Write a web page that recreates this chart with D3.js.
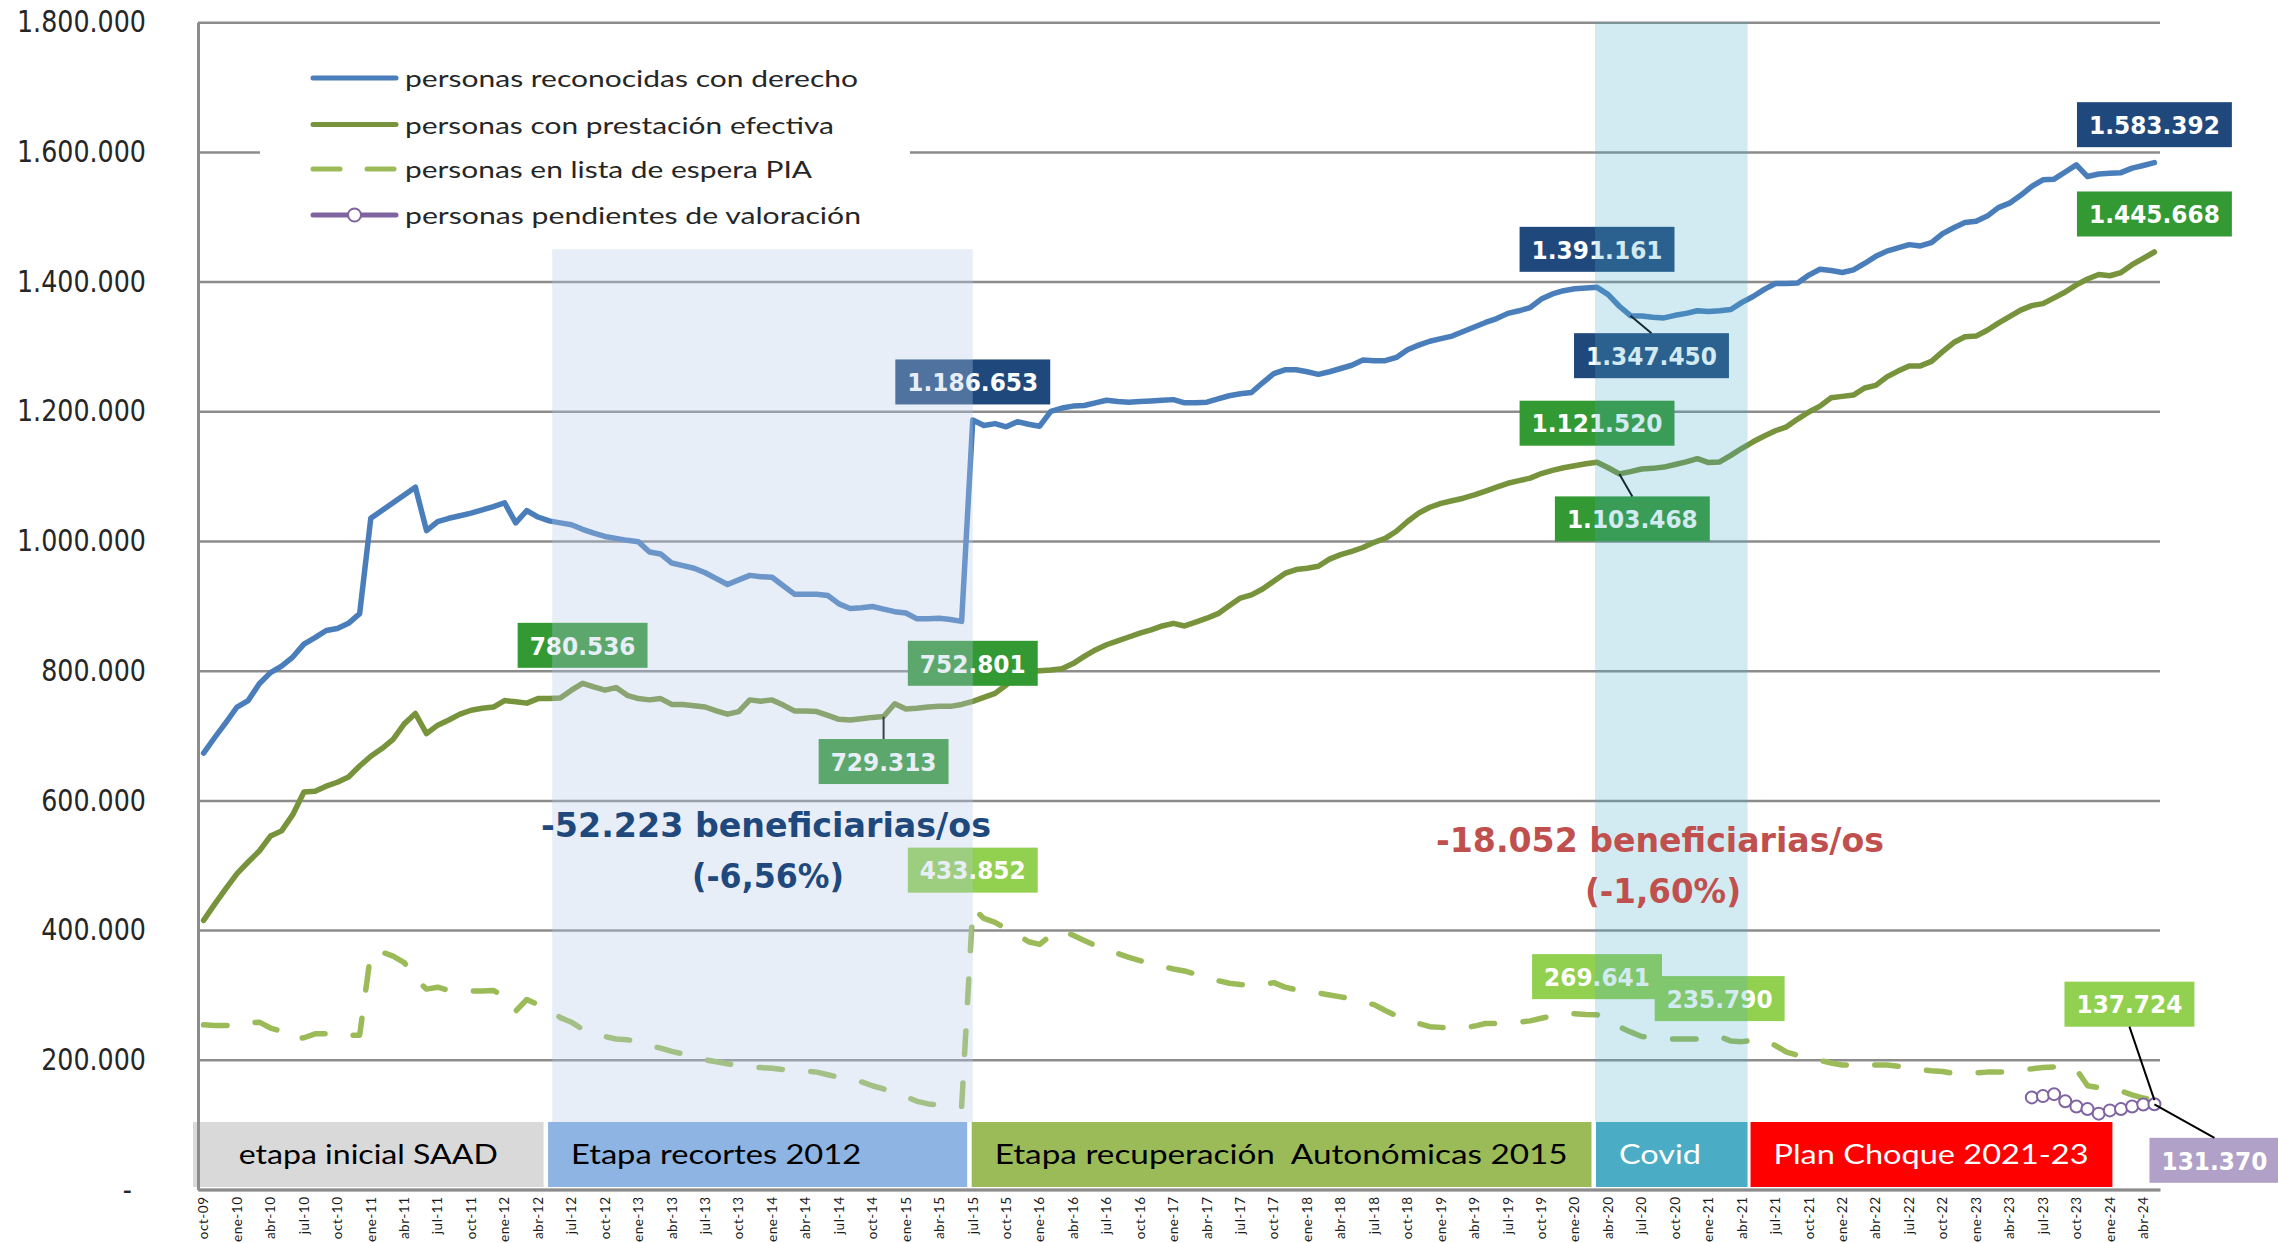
<!DOCTYPE html>
<html>
<head>
<meta charset="utf-8">
<script src="https://cdn.jsdelivr.net/npm/d3@7"></script>
<style>
  html, body { margin: 0; padding: 0; background: #fff; }
  svg { display: block; }
</style>
</head>
<body>
<svg id="chart" width="2278" height="1243"></svg>
<script>
// ---- datos ----
// meses oct-09 .. may-24 (176 meses)
const mesesAbr = ['ene', 'feb', 'mar', 'abr', 'may', 'jun', 'jul', 'ago', 'sep', 'oct', 'nov', 'dic'];
const meses = [];
for (let k = 0; k < 176; k++) {
    const n = 9 + k;
    meses.push(mesesAbr[n % 12] + '-' + String(2009 + Math.floor(n / 12)).slice(2));
}
// etiquetas del eje x: una de cada tres
const etiquetasEje = meses.filter((m, i) => i % 3 === 0);

// valores en miles de personas
const reconocidas = [
    673, 697, 720, 744, 754, 780, 797, 807, 821, 841, 851, 862,
    865, 873, 888, 1035, 1047, 1059, 1071, 1083, 1016, 1030, 1035, 1039,
    1043, 1048, 1053, 1059, 1028, 1047, 1037, 1031, 1028, 1025, 1018, 1012,
    1007, 1004, 1001, 999, 983, 980, 966, 962, 958, 951, 942, 933,
    940, 947, 945, 944, 931, 918, 918, 918, 916, 903, 896, 897,
    899, 895, 891, 889, 880, 880, 881, 879, 876, 1186.653, 1178, 1181,
    1176, 1184, 1180, 1177, 1200, 1205, 1208, 1209, 1213, 1217, 1215, 1214,
    1215, 1216, 1217, 1218, 1213, 1213, 1214, 1219, 1224, 1227, 1229, 1244,
    1258, 1264, 1264, 1261, 1257, 1261, 1266, 1271, 1279, 1278, 1278, 1283,
    1295, 1302, 1308, 1312, 1316, 1323, 1330, 1337, 1343, 1351, 1355, 1360,
    1373, 1381, 1386, 1389, 1390, 1391.161, 1380, 1362, 1347.450, 1347, 1345, 1344,
    1348, 1351, 1355, 1354, 1355, 1357, 1368, 1377, 1388, 1397, 1397, 1398,
    1410, 1419, 1417, 1414, 1418, 1428, 1439, 1447, 1452, 1457, 1455, 1460,
    1474, 1483, 1491, 1493, 1501, 1514, 1521, 1533, 1547, 1557, 1558, 1569,
    1580, 1562, 1566, 1567, 1568, 1575, 1579, 1583.392
];
const efectiva = [
    415, 440, 464, 487, 505, 522, 545, 553, 578, 613, 614, 622,
    628, 636, 653, 668, 680, 694, 718, 734, 703, 716, 724, 733,
    739, 742, 744, 754, 752, 750, 757, 757, 758, 770, 780.536, 775,
    770, 774, 762, 757, 755, 757, 748, 748, 746, 744, 738, 733,
    737, 755, 753, 755, 747, 738, 738, 737, 731, 725, 724, 726,
    728, 729.313, 749, 741, 742, 744, 745, 745, 748, 752.801, 759, 765,
    778, 792, 799, 800, 801, 803, 811, 822, 832, 840, 846, 852,
    858, 863, 869, 873, 869, 875, 881, 888, 900, 912, 917, 926,
    938, 950, 956, 958, 961, 972, 979, 984, 990, 998, 1004, 1015,
    1030, 1043, 1052, 1058, 1062, 1066, 1071, 1077, 1083, 1089, 1093, 1097,
    1104, 1109, 1113, 1116, 1119, 1121.520, 1113, 1103.468, 1107, 1111, 1112, 1114,
    1118, 1122, 1127, 1121, 1122, 1132, 1143, 1153, 1162, 1170, 1176, 1188,
    1199, 1208, 1221, 1223, 1225, 1236, 1240, 1253, 1262, 1270, 1270, 1277,
    1292, 1306, 1315, 1316, 1325, 1336, 1346, 1356, 1363, 1366, 1375, 1384,
    1395, 1404, 1411, 1409, 1414, 1426, 1436, 1445.668
];
const espera = [
    254, 253, 253, 252, 257, 258, 249, 244, 231, 234, 240, 240,
    236, 238, 238, 365, 366, 360, 350, 325, 309, 312, 307, 305,
    306, 306, 307, 297, 275, 293, 285, 279, 265, 258, 247, 240,
    236, 232, 231, 228, 222, 218, 213, 209, 205, 200, 197, 194,
    191, 189, 188, 187, 185, 184, 183, 181, 177, 173, 169, 166,
    160, 155, 149, 143, 136, 132, 130, 131, 128, 433.852, 418, 412,
    402, 393, 382, 378, 392, 400, 392, 384, 376, 370, 364, 358,
    353, 348, 344, 340, 337, 332, 327, 322, 318, 316, 315, 316,
    319, 312, 308, 305, 303, 300, 297, 294, 289, 285, 276, 268,
    262, 256, 251, 250, 250, 249, 252, 256, 256, 256, 258, 260,
    264, 268, 272, 271, 270, 269.641, 258, 251, 243, 236, 234, 233,
    232, 232, 232, 234, 235.790, 229, 228, 230, 231, 222, 212, 207,
    203, 199, 195, 192, 192, 192, 192, 192, 190, 187, 185, 183,
    182, 179, 179, 180, 181, 181, 182, 184, 186, 188, 189, 189,
    185, 160, 157, 157, 152, 146, 141, 137.724
];
// pendientes de valoración: jun-23 .. may-24
const pendientesDesde = 'jun-23';
const pendientes = [142, 144, 147, 136, 128, 124, 117, 122, 124, 128, 131, 131.370];

const nombresSeries = [
    'personas reconocidas con derecho',
    'personas con prestación efectiva',
    'personas en lista de espera PIA',
    'personas pendientes de valoración'
];

// etiquetas de valor: [serie, mes]
const etiquetasValor = [
    ['reconocidas', 'jul-15'], ['reconocidas', 'mar-20'], ['reconocidas', 'jun-20'], ['reconocidas', 'may-24'],
    ['efectiva', 'ago-12'], ['efectiva', 'nov-14'], ['efectiva', 'jul-15'], ['efectiva', 'mar-20'],
    ['efectiva', 'may-20'], ['efectiva', 'may-24'],
    ['espera', 'jul-15'], ['espera', 'mar-20'], ['espera', 'feb-21'], ['espera', 'may-24'],
    ['pendientes', 'may-24']
];

// etapas: nombre, desde, hasta (excluido)
const etapas = [
    ['etapa inicial SAAD', 'oct-09', 'may-12'],
    ['Etapa recortes 2012', 'may-12', 'jul-15'],
    ['Etapa recuperación  Autonómicas 2015', 'jul-15', 'mar-20'],
    ['Covid', 'mar-20', 'may-21'],
    ['Plan Choque 2021-23', 'may-21', 'feb-24']
];

const textosRecortes = ['-52.223 beneficiarias/os', '(-6,56%)'];
const textosCovid = ['-18.052 beneficiarias/os', '(-1,60%)'];

const yTicks = [0, 200000, 400000, 600000, 800000, 1000000, 1200000, 1400000, 1600000, 1800000];

// ---- escalas ----
const plot = { left: 198, right: 2160, top: 22.2, bottom: 1189.5 };
const svg = d3.select('#chart');
const x = d3.scaleBand().domain(meses).range([plot.left, plot.right]);
const cx = m => x(m) + x.bandwidth() / 2;
const y = d3.scaleLinear().domain([0, 1800000]).range([plot.bottom, plot.top]);
const fmt = d3.formatLocale({ decimal: ',', thousands: '.', grouping: [3], currency: ['', ''] }).format(',.0f');

const serie = (arr, desde = 0) => arr.map((v, i) => ({ mes: meses[desde + i], valor: Math.round(v * 1000) }));
const datos = {
    reconocidas: serie(reconocidas),
    efectiva: serie(efectiva),
    espera: serie(espera),
    pendientes: serie(pendientes, meses.indexOf(pendientesDesde))
};
const estilos = {
    reconocidas: { color: '#4a7ebb', caja: '#1f497d' },
    efectiva: { color: '#77933c', caja: '#339933' },
    espera: { color: '#9bbb59', caja: '#92d050', dash: '23.5,28.5' },
    pendientes: { color: '#8064a2', caja: '#b1a0c7', marker: true }
};

function ajustar(sel, factor) {
    sel.each(function() {
        const L = this.getComputedTextLength();
        d3.select(this).attr('textLength', L * factor).attr('lengthAdjust', 'spacingAndGlyphs');
    });
}

// rejilla
svg.append('g')
    .attr('transform', `translate(${plot.left},0)`)
    .call(d3.axisLeft(y).tickValues(yTicks).tickSize(-(plot.right - plot.left)).tickFormat(''))
    .call(g => g.select('.domain').remove())
    .selectAll('line').attr('stroke', '#8c8c8c').attr('stroke-width', 2.5);

// lineas
const line = d3.line().x(d => cx(d.mes)).y(d => y(d.valor));
['espera', 'efectiva', 'reconocidas', 'pendientes'].forEach(k => {
    svg.append('path')
        .datum(datos[k])
        .attr('d', line)
        .attr('fill', 'none')
        .attr('stroke', estilos[k].color)
        .attr('stroke-width', k === 'pendientes' ? 3 : 5.5)
        .attr('stroke-linejoin', 'round')
        .attr('stroke-linecap', 'round')
        .attr('stroke-dasharray', estilos[k].dash || null);
});
svg.append('g').selectAll('circle')
    .data(datos.pendientes)
    .join('circle')
    .attr('cx', d => cx(d.mes))
    .attr('cy', d => y(d.valor))
    .attr('r', 6)
    .attr('fill', '#fff')
    .attr('stroke', estilos.pendientes.color)
    .attr('stroke-width', 2);

// etiquetas de valor
const colocacion = {
    'reconocidas|jul-15': [0, -38], 'reconocidas|mar-20': [0, -38], 'reconocidas|jun-20': [21, 40],
    'reconocidas|may-24': [0, -38],
    'efectiva|ago-12': [0, -38], 'efectiva|nov-14': [0, 45], 'efectiva|jul-15': [0, -38],
    'efectiva|mar-20': [0, -39], 'efectiva|may-20': [13, 45], 'efectiva|may-24': [0, -38],
    'espera|jul-15': [0, -38], 'espera|mar-20': [0, -38], 'espera|feb-21': [0, -38],
    'espera|may-24': [-25, -96], 'pendientes|may-24': [60, 56]
};
const gEtq = svg.append('g');
etiquetasValor.forEach(([k, mes]) => {
    const d = datos[k].find(p => p.mes === mes);
    const px = cx(mes), py = y(d.valor);
    const [dx, dy] = colocacion[k + '|' + mes];
    const bx = px + dx, by = py + dy;
    const g = gEtq.append('g');
    const t = g.append('text')
        .attr('x', bx).attr('y', by + 9.3)
        .attr('text-anchor', 'middle')
        .attr('font-family', 'DejaVu Sans').attr('font-weight', 'bold').attr('font-size', 25)
        .attr('fill', '#fff')
        .text(fmt(d.valor));
    ajustar(t, 0.93);
    const w = +t.attr('textLength') + 24, h = 45;
    g.insert('rect', 'text')
        .attr('x', bx - w / 2).attr('y', by - h / 2).attr('width', w).attr('height', h)
        .attr('fill', estilos[k].caja);
    if (Math.abs(dy) > 40 || dx !== 0) {
        const ey = dy > 0 ? by - h / 2 : by + h / 2;
        gEtq.append('line')
            .attr('x1', px).attr('y1', py).attr('x2', bx).attr('y2', ey)
            .attr('stroke', '#000').attr('stroke-width', 2);
    }
});

// sombreados
svg.append('rect')
    .attr('x', cx('may-12') + 3).attr('y', y(1450000))
    .attr('width', cx('jul-15') - cx('may-12') - 3).attr('height', 1122 - y(1450000))
    .attr('fill', 'rgb(179,201,230)').attr('fill-opacity', 0.32);
svg.append('rect')
    .attr('x', cx('mar-20') - 2).attr('y', plot.top)
    .attr('width', x('may-21') - cx('mar-20') + 2).attr('height', 1122 - plot.top)
    .attr('fill', 'rgb(75,172,198)').attr('fill-opacity', 0.25);

// textos de variación
function textoGrande(txt, px, py, color, ancho) {
    svg.append('text')
        .attr('x', px).attr('y', py)
        .attr('text-anchor', 'middle')
        .attr('font-family', 'DejaVu Sans').attr('font-weight', 'bold').attr('font-size', 34)
        .attr('fill', color)
        .attr('textLength', ancho).attr('lengthAdjust', 'spacingAndGlyphs')
        .text(txt);
}
textoGrande(textosRecortes[0], 766, 837, '#1f497d', 450);
textoGrande(textosRecortes[1], 768, 888, '#1f497d', 152);
textoGrande(textosCovid[0], 1660, 852, '#c0504d', 448);
textoGrande(textosCovid[1], 1663, 903, '#c0504d', 156);

// etapas
const coloresEtapa = ['#d9d9d9', '#8db4e2', '#9bbb59', '#4bacc6', '#ff0000'];
const textoEtapa = ['#000', '#000', '#000', '#fff', '#fff'];
const anchoEtapa = [259, 290, 573, 82, 315];
etapas.forEach(([nombre, desde, hasta], i) => {
    const gap = i === 0 ? -5 : (i === 4 ? 3 : 4.5);
    const x0 = x(desde) + gap;
    const x1 = i === 4 ? x(hasta) - 3 : x(hasta);
    svg.append('rect')
        .attr('x', x0).attr('y', 1122).attr('width', x1 - x0).attr('height', 65)
        .attr('fill', coloresEtapa[i]);
    svg.append('text')
        .attr('x', i === 0 ? (x0 + x1) / 2 : x0 + 23)
        .attr('y', 1164)
        .attr('text-anchor', i === 0 ? 'middle' : 'start')
        .attr('font-family', 'Lato').attr('font-size', 26)
        .attr('fill', textoEtapa[i])
        .style('white-space', 'pre')
        .attr('textLength', anchoEtapa[i]).attr('lengthAdjust', 'spacingAndGlyphs')
        .text(nombre);
});

// ejes
const yAxis = svg.append('g')
    .attr('transform', `translate(${plot.left},0)`)
    .call(d3.axisLeft(y).tickValues(yTicks).tickSize(0).tickSizeOuter(0).tickPadding(52)
        .tickFormat(d => d === 0 ? '-' : fmt(d)));
yAxis.select('.domain').attr('stroke', '#8c8c8c').attr('stroke-width', 3);
yAxis.selectAll('text')
    .attr('font-family', 'DejaVu Sans').attr('font-size', 30).attr('fill', '#262626')
    .attr('x', d => d === 0 ? -66 : -52);
ajustar(yAxis.selectAll('text'), 0.845);

const xAxis = svg.append('g')
    .attr('transform', `translate(0,${plot.bottom})`)
    .call(d3.axisBottom(x).tickValues(etiquetasEje).tickSize(0).tickSizeOuter(0));
xAxis.select('.domain').attr('stroke', '#8c8c8c').attr('stroke-width', 3);
xAxis.selectAll('text')
    .attr('transform', 'rotate(-90)')
    .attr('text-anchor', 'end')
    .attr('x', -7).attr('y', 0).attr('dy', '0.35em')
    .attr('font-family', 'Lato').attr('font-size', 13.5).attr('letter-spacing', 0.5)
    .attr('fill', '#1a1a1a');

// leyenda
const leg = svg.append('g');
leg.append('rect').attr('x', 260).attr('y', 42).attr('width', 650).attr('height', 200).attr('fill', '#fff');
const legY = [78, 124.5, 169, 215];
const legAncho = [453, 429, 407, 456];
['reconocidas', 'efectiva', 'espera', 'pendientes'].forEach((k, i) => {
    const ly = legY[i];
    leg.append('line')
        .attr('x1', 313).attr('x2', 396).attr('y1', ly).attr('y2', ly)
        .attr('stroke', estilos[k].color).attr('stroke-width', 5)
        .attr('stroke-linecap', 'round')
        .attr('stroke-dasharray', estilos[k].dash ? '27,27' : null);
    if (estilos[k].marker) {
        leg.append('circle').attr('cx', 354.5).attr('cy', ly).attr('r', 6.5)
            .attr('fill', '#fff').attr('stroke', estilos[k].color).attr('stroke-width', 2);
    }
    leg.append('text')
        .attr('x', 405).attr('y', ly + 9)
        .attr('font-family', 'Lato').attr('font-size', 24).attr('fill', '#262626')
        .attr('textLength', legAncho[i]).attr('lengthAdjust', 'spacingAndGlyphs')
        .text(nombresSeries[i]);
});
</script>
</body>
</html>
